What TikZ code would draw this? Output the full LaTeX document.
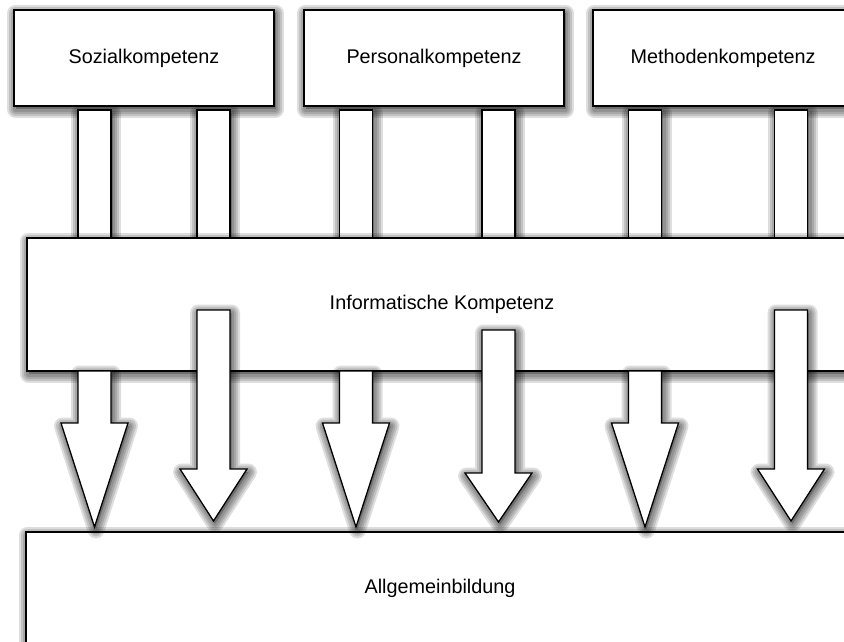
\documentclass[tikz,border=0pt]{standalone}
\usepackage{fontspec}
\setmainfont{Liberation Sans}
\begin{document}
\begin{tikzpicture}[x=1pt,y=-1pt,
  % soft drop shadow built from stacked translucent strokes
  shadowring/.style={preaction={draw=black,draw opacity=0.13,line width=#1,
    line join=round,fill=none,transform canvas={shift={(1.5pt,-3pt)}}}},
  shade/.style={preaction={fill=black,fill opacity=0.25,
      transform canvas={shift={(1.5pt,-3pt)}}},
    shadowring=17pt,shadowring=13pt,shadowring=9pt,shadowring=5pt},
  box/.style={draw=black,line width=1.3pt,fill=white,shade,inner sep=0pt,
    font=\fontsize{19.8}{24}\selectfont},
  bar/.style={draw=black,line width=1.3pt,fill=white,shade},
  fatarrow/.style={draw=black,line width=1.3pt,fill=white,shade,line join=miter}]
\useasboundingbox (0,0) rectangle (844,641);
% competence boxes on top
\node[box,minimum width=260pt,minimum height=96pt] (soz) at (144,58) {Sozialkompetenz};
\node[box,minimum width=260pt,minimum height=96pt] (pers) at (434,58) {Personalkompetenz};
\node[box,minimum width=260pt,minimum height=96pt] (meth) at (723,58) {Methodenkompetenz};
% bars from the competence boxes into the middle layer
\foreach \c in {94.5,213.5,356,498.5,645,791}
  \draw[bar] (\c-16.5,110) rectangle (\c+16.5,245);
% middle layer
\node[box,minimum width=830pt,minimum height=133pt] (inf) at (442,304.5) {Informatische Kompetenz};
% bottom layer
\node[box,minimum width=828pt,minimum height=112pt] (all) at (440,588) {Allgemeinbildung};
% block arrows: centre x, top y, head base y, tip y
\newcommand\blockarrow[4]{%
  \draw[fatarrow] (#1-16.5,#2) -- (#1+16.5,#2) -- (#1+16.5,#3) -- (#1+33.5,#3)
    -- (#1,#4) -- (#1-33.5,#3) -- (#1-16.5,#3) -- cycle;}
\blockarrow{94.5}{371}{423}{527}
\blockarrow{356}{371}{423}{527}
\blockarrow{645}{371}{423}{527}
\blockarrow{213.5}{310}{469}{521}
\blockarrow{498.5}{330}{473}{522}
\blockarrow{791}{310}{469}{521}
\end{tikzpicture}
\end{document}
